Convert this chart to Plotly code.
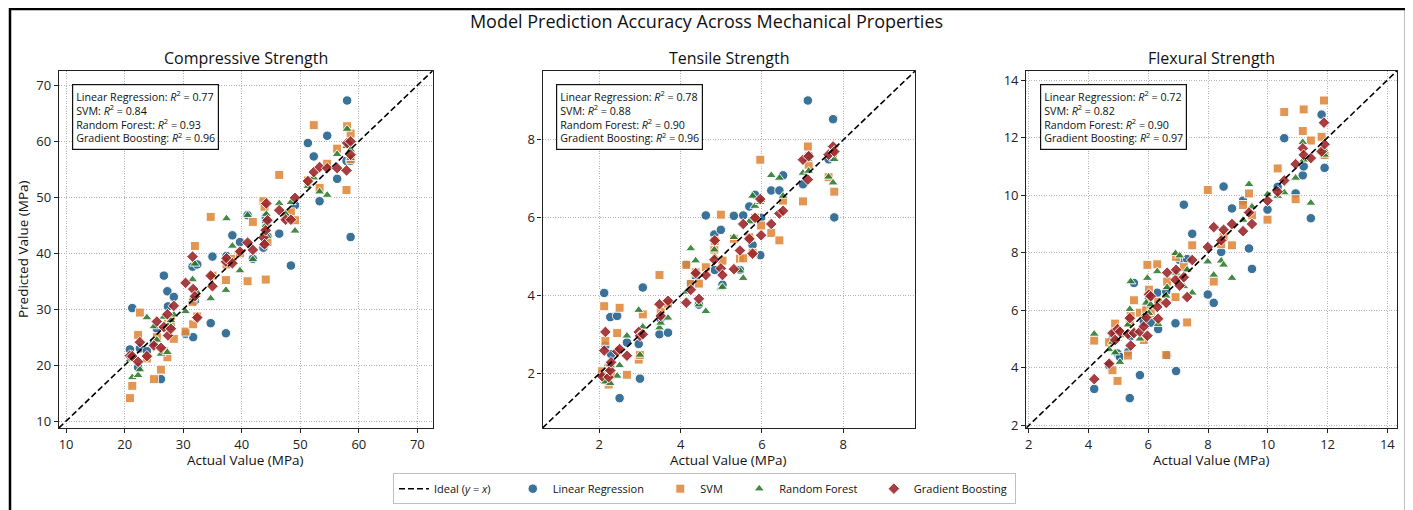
import plotly.graph_objects as go

# ---------------- data ----------------
models = ["Linear Regression", "SVM", "Random Forest", "Gradient Boosting"]
panel_titles = ["Compressive Strength", "Tensile Strength", "Flexural Strength"]

# Compressive strength
comp_actual = [20.9, 21.3, 22.3, 22.6, 23.8, 25.0, 25.5, 26.2, 26.7, 27.3, 27.4, 27.9, 28.4, 30.4, 31.6,
               31.7, 32.0, 32.4, 34.7, 35.0, 37.3, 37.4, 38.4, 39.7, 41.0, 41.9, 43.7, 43.9, 44.1, 44.2,
               44.4, 46.4, 47.5, 48.4, 49.1, 51.3, 52.3, 53.3, 54.6, 56.3, 57.9, 58.0, 58.6, 58.6]
comp_lr = [22.8, 30.2, 19.6, 23.0, 22.5, 24.0, 26.5, 17.5, 36.0, 33.2, 30.5, 27.0, 32.2, 25.6, 37.6,
           25.0, 31.5, 38.0, 27.5, 39.4, 25.7, 39.5, 43.2, 42.0, 46.8, 39.0, 41.0, 41.6, 46.5, 45.5,
           43.0, 43.5, 46.5, 37.8, 48.6, 59.7, 57.3, 49.3, 61.0, 53.3, 56.5, 67.3, 42.9, 56.5]
comp_svm = [14.1, 16.3, 25.4, 29.4, 21.2, 17.5, 25.0, 19.2, 22.5, 21.4, 27.5, 28.0, 24.7, 26.0, 31.3,
            27.3, 41.3, 28.7, 46.5, 36.0, 35.2, 38.0, 39.0, 40.0, 35.0, 45.6, 49.3, 48.3, 35.3, 44.5,
            42.0, 54.0, 47.0, 47.3, 45.9, 53.0, 62.9, 51.7, 56.0, 58.7, 51.3, 62.7, 61.4, 56.8]
comp_rf = [21.0, 17.8, 18.2, 19.2, 28.5, 26.9, 24.5, 22.0, 28.6, 22.3, 27.0, 28.0, 29.0, 29.6, 35.3,
           32.0, 38.1, 33.0, 31.9, 36.0, 33.4, 46.2, 41.3, 36.9, 46.8, 38.9, 43.5, 44.5, 45.0, 47.0,
           43.0, 48.9, 47.0, 49.1, 44.0, 52.0, 53.5, 51.0, 50.4, 57.7, 59.1, 62.2, 57.0, 58.5]
comp_gb = [21.7, 21.6, 20.6, 24.1, 21.6, 23.5, 27.8, 23.1, 26.8, 29.1, 25.3, 26.5, 30.6, 34.7, 39.4,
           33.6, 32.3, 28.5, 36.0, 34.1, 38.5, 39.1, 38.2, 40.3, 41.9, 40.6, 42.8, 41.6, 44.1, 48.9,
           45.9, 47.7, 46.0, 46.0, 49.9, 52.9, 54.5, 55.4, 55.2, 55.2, 54.8, 59.7, 60.0, 57.6]
comp_r2 = [0.77, 0.84, 0.93, 0.96]

# Tensile strength
tens_actual = [2.07, 2.12, 2.15, 2.23, 2.27, 2.29, 2.44, 2.50, 2.68, 2.97, 3.00, 3.07, 3.48, 3.51, 3.69,
               4.14, 4.25, 4.37, 4.45, 4.62, 4.83, 4.84, 4.99, 5.03, 5.31, 5.46, 5.54, 5.69, 5.77, 5.83,
               5.96, 5.98, 6.23, 6.43, 6.52, 7.01, 7.13, 7.15, 7.64, 7.75, 7.78]
tens_lr = [2.00, 4.07, 2.72, 2.20, 3.45, 2.50, 3.48, 1.37, 2.80, 2.76, 1.87, 4.21, 3.01, 3.40, 3.05,
           4.81, 4.32, 4.50, 3.77, 6.06, 5.57, 4.66, 5.69, 4.28, 6.05, 4.66, 6.06, 6.29, 5.30, 6.59,
           5.04, 6.00, 6.70, 6.70, 7.09, 6.86, 9.01, 7.60, 7.50, 8.53, 6.01]
tens_svm = [2.06, 3.73, 2.84, 1.72, 2.20, 1.97, 3.04, 3.69, 1.97, 2.36, 2.48, 3.52, 4.53, 3.60, 3.80,
            4.79, 4.30, 4.60, 4.31, 4.73, 5.18, 5.40, 6.08, 4.90, 5.46, 4.95, 4.96, 5.50, 5.10, 6.00,
            7.49, 5.80, 5.61, 5.42, 6.44, 6.42, 7.83, 7.36, 7.04, 7.66, 6.67]
tens_rf = [1.95, 1.80, 1.79, 2.10, 1.75, 2.20, 1.94, 2.21, 2.97, 3.63, 2.48, 3.20, 3.18, 3.30, 3.43,
           4.10, 5.21, 4.90, 3.77, 3.60, 5.18, 5.00, 4.20, 4.22, 5.50, 4.64, 4.45, 5.90, 6.56, 6.30,
           6.40, 6.45, 7.09, 7.02, 6.56, 7.15, 7.50, 7.20, 7.05, 6.90, 7.50]
tens_gb = [1.93, 2.59, 3.07, 1.91, 2.08, 2.29, 2.57, 2.63, 2.46, 3.07, 2.97, 3.01, 3.78, 3.48, 3.87,
           3.82, 4.15, 4.58, 3.92, 4.53, 4.92, 5.42, 4.70, 4.53, 4.68, 5.16, 5.84, 5.46, 5.08, 6.00,
           6.48, 5.55, 5.84, 6.11, 6.18, 7.49, 6.98, 7.58, 7.62, 7.83, 7.70]
tens_r2 = [0.78, 0.88, 0.90, 0.96]

# Flexural strength
flex_actual = [4.19, 4.69, 4.80, 4.89, 4.97, 5.05, 5.32, 5.38, 5.41, 5.52, 5.72, 5.85, 5.93, 5.97, 6.02,
               6.08, 6.30, 6.33, 6.60, 6.63, 6.91, 6.93, 7.05, 7.19, 7.30, 7.47, 7.99, 8.19, 8.44, 8.52,
               8.80, 9.17, 9.37, 9.47, 9.99, 10.33, 10.55, 10.93, 11.17, 11.20, 11.44, 11.80, 11.88, 11.90]
flex_lr = [3.27, 4.09, 5.00, 5.23, 4.50, 4.38, 4.55, 2.95, 5.10, 6.95, 3.75, 5.60, 5.80, 6.10, 6.40,
           5.57, 6.61, 5.35, 6.66, 4.43, 5.55, 3.89, 7.75, 9.67, 7.78, 8.66, 6.55, 6.26, 8.03, 10.30,
           9.54, 9.81, 8.15, 7.44, 9.50, 10.29, 11.98, 10.06, 10.69, 11.00, 9.20, 12.80, 11.40, 10.95]
flex_svm = [4.95, 4.89, 3.92, 5.54, 3.55, 5.20, 4.43, 5.60, 5.80, 6.35, 5.92, 4.97, 6.00, 7.58, 6.72,
            5.90, 7.60, 6.30, 4.45, 7.00, 6.46, 7.86, 7.10, 7.50, 5.58, 8.26, 10.18, 7.00, 8.30, 8.57,
            8.26, 9.66, 10.06, 9.30, 9.15, 10.93, 12.89, 9.86, 12.23, 12.98, 11.90, 12.03, 13.29, 11.40]
flex_rf = [5.18, 4.64, 4.90, 4.53, 5.00, 4.20, 5.50, 6.04, 7.00, 5.30, 5.01, 5.80, 6.26, 7.12, 5.90,
           6.20, 7.35, 5.52, 6.50, 6.80, 7.98, 7.30, 7.90, 6.83, 7.41, 6.61, 7.69, 7.23, 7.72, 7.58,
           7.12, 9.14, 10.38, 9.60, 10.03, 9.97, 10.09, 10.60, 11.84, 11.23, 9.73, 11.50, 11.60, 11.40]
flex_gb = [3.61, 4.15, 5.21, 4.97, 5.35, 5.26, 5.18, 5.73, 4.78, 5.21, 5.26, 5.44, 5.75, 5.12, 6.55,
           6.49, 6.12, 5.71, 6.26, 7.31, 7.06, 7.41, 6.86, 7.15, 6.46, 7.75, 8.20, 8.89, 8.43, 8.80,
           9.00, 8.75, 9.40, 9.00, 9.81, 10.12, 10.51, 11.08, 11.63, 11.40, 11.29, 11.52, 12.52, 11.77]
flex_r2 = [0.72, 0.82, 0.90, 0.97]

comp_ticks = [10, 20, 30, 40, 50, 60, 70]
tens_ticks = [2, 4, 6, 8]
flex_ticks = [2, 4, 6, 8, 10, 12, 14]

# ---------------- style ----------------
FONT = "Open Sans"
PAGE_OFF = 8              # browser default body margin
W, H = 1413 - PAGE_OFF, 510 - PAGE_OFF
colors = ["#1f5f8b", "#e0883a", "#2a7a2c", "#9c2427"]
symbols = ["circle", "square", "triangle-up", "diamond"]
msizes = [9.5, 9, 9, 9]
NBSP = "\u00a0"
legend_pad = [4, 4, 4, 1]

panels = [
    (panel_titles[0], comp_actual, [comp_lr, comp_svm, comp_rf, comp_gb], comp_r2, comp_ticks),
    (panel_titles[1], tens_actual, [tens_lr, tens_svm, tens_rf, tens_gb], tens_r2, tens_ticks),
    (panel_titles[2], flex_actual, [flex_lr, flex_svm, flex_rf, flex_gb], flex_r2, flex_ticks),
]

# page-pixel layout of the reference
px_x = [(58, 432), (542, 915), (1026, 1397)]
px_top, px_bot = 71.5, 433


def fx(p):
    return (p - PAGE_OFF) / W


def fy(p):
    return (H - (p - PAGE_OFF)) / H


fig = go.Figure()
annotations = []
layout_axes = {}

for i, (title, actual, preds, r2s, ticks) in enumerate(panels):
    sfx = "" if i == 0 else str(i + 1)
    xa, ya = "x" + sfx, "y" + sfx
    allv = list(actual) + [v for p in preds for v in p]
    lo, hi = min(allv), max(allv)
    pad = 0.1 * (hi - lo)
    lo, hi = lo - pad, hi + pad

    for m, name in enumerate(models):
        fig.add_trace(go.Scatter(
            x=actual, y=preds[m], mode="markers", name=name + NBSP * legend_pad[m], legendgroup=name,
            showlegend=(i == 0), legendrank=m + 2,
            marker=dict(symbol=symbols[m], size=msizes[m], color=colors[m], opacity=0.88,
                        line=dict(color="white", width=1)),
            xaxis=xa, yaxis=ya, hoverinfo="skip"))
    fig.add_trace(go.Scatter(
        x=[lo, hi], y=[lo, hi], mode="lines",
        name="Ideal (<i>y</i> = <i>x</i>)" + NBSP * 6,
        legendgroup="ideal", showlegend=(i == 0), legendrank=1,
        line=dict(color="black", width=1.6, dash="6px,3px"),
        xaxis=xa, yaxis=ya, hoverinfo="skip"))

    ax_common = dict(
        range=[lo, hi], tickvals=ticks, showline=True, linecolor="#222", linewidth=1.3,
        mirror=True, ticks="outside", ticklen=4, tickwidth=1, tickcolor="#222",
        showgrid=True, gridcolor="#b4b4b4", griddash="1px,1.5px", gridwidth=1, zeroline=False,
        tickfont=dict(family=FONT, size=13, color="#222"))
    x0, x1 = px_x[i]
    layout_axes["xaxis" + sfx] = dict(ax_common, domain=[fx(x0), fx(x1)], anchor=ya)
    layout_axes["yaxis" + sfx] = dict(ax_common, domain=[fy(px_bot), fy(px_top)], anchor=xa)

    cx = fx((x0 + x1) / 2)
    annotations.append(dict(text=title, x=cx, y=fy(59), xref="paper", yref="paper",
                            xanchor="center", yanchor="middle", showarrow=False,
                            font=dict(family=FONT, size=16, color="#111")))
    annotations.append(dict(text="Actual Value (MPa)", x=cx, y=fy(465), xref="paper", yref="paper",
                            xanchor="center", yanchor="middle", showarrow=False,
                            font=dict(family=FONT, size=13.5, color="#111")))
    box = "<br>".join(f"{n}: <i>R</i><sup>2</sup> = {r:.2f}" for n, r in zip(models, r2s))
    annotations.append(dict(text=box, x=0.036, y=0.962, xref=xa + " domain", yref=ya + " domain",
                            xanchor="left", yanchor="top", align="left", showarrow=False,
                            bgcolor="rgba(255,255,255,0.9)", bordercolor="#111", borderwidth=1.2,
                            borderpad=3, font=dict(family=FONT, size=10.7, color="#111")))

annotations.append(dict(text="Predicted Value (MPa)", x=fx(22), y=fy(252), xref="paper", yref="paper",
                        xanchor="center", yanchor="middle", textangle=-90, showarrow=False,
                        font=dict(family=FONT, size=13.5, color="#111")))

fig.update_layout(
    width=W, height=H, autosize=False,
    margin=dict(l=0, r=0, t=0, b=0, pad=0),
    paper_bgcolor="white", plot_bgcolor="white",
    font=dict(family=FONT, color="#111"),
    title=dict(text="Model Prediction Accuracy Across Mechanical Properties", x=fx(706.5), xanchor="center",
               y=fy(22), yanchor="middle", font=dict(family=FONT, size=18, color="#111")),
    annotations=annotations,
    legend=dict(orientation="h", x=fx(704), xanchor="center", y=fy(494.5), yanchor="middle",
                bordercolor="#c0c0c0", borderwidth=1, bgcolor="white",
                font=dict(family=FONT, size=11, color="#111"), traceorder="normal"),
    shapes=[dict(type="rect", xref="paper", yref="paper", x0=fx(9), x1=fx(1406), y0=-0.05, y1=fy(9),
                 line=dict(color="black", width=2.5), fillcolor="rgba(0,0,0,0)", layer="above")],
    **layout_axes,
)

fig.write_html("out.html")
